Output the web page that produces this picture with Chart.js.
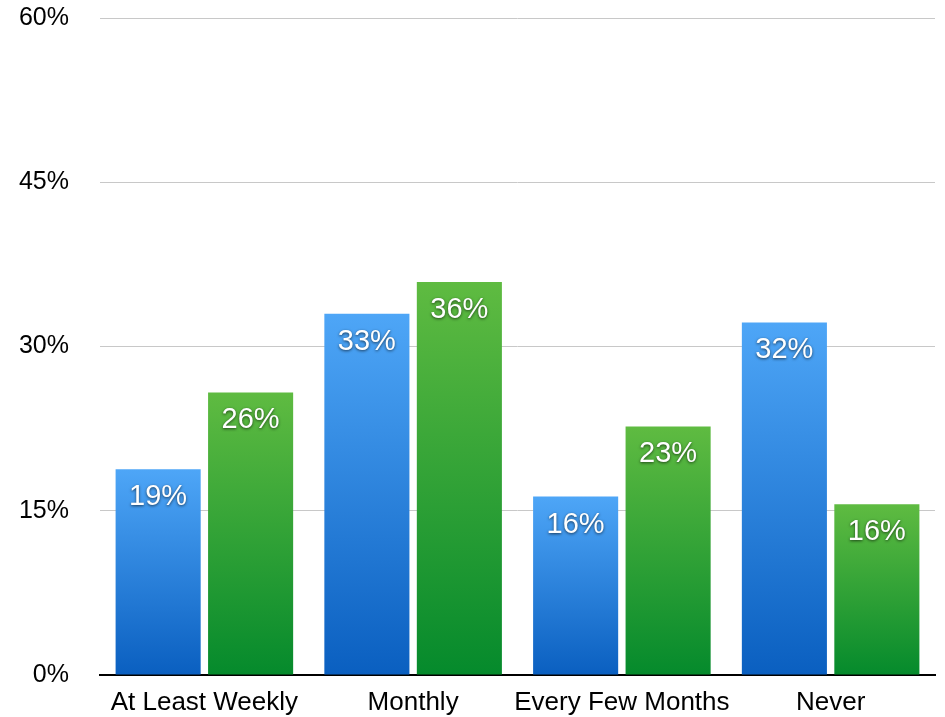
<!DOCTYPE html>
<html>
<head>
<meta charset="utf-8">
<script src="https://cdn.jsdelivr.net/npm/chart.js@4.4.0/dist/chart.umd.min.js"></script>
<style>
  html, body { margin: 0; padding: 0; background: #fff; }
  #wrap { width: 945px; height: 717px; }
</style>
</head>
<body>
<div id="wrap"><canvas id="freqChart" width="945" height="717"></canvas></div>
<script>
const categories = ['At Least Weekly', 'Monthly', 'Every Few Months', 'Never'];
// values; labels show them rounded
const blueValues = [18.8, 33.0, 16.3, 32.2];
const greenValues = [25.8, 35.9, 22.7, 15.6];
const yTicks = [0, 15, 30, 45, 60];

// gradient running from the top of each bar down to the baseline
function barGradient(c, top, bottom, fallback) {
    const chart = c.chart;
    if (!chart.chartArea || c.raw === undefined) return fallback;
    const y = chart.scales.y;
    const yTop = y.getPixelForValue(c.raw);
    const yBase = y.getPixelForValue(0);
    const g = chart.ctx.createLinearGradient(0, yTop, 0, yBase);
    g.addColorStop(0, top);
    g.addColorStop(1, bottom);
    return g;
}

// Value labels inside the bars, near the top
const barLabels = {
    id: 'barLabels',
    afterDatasetsDraw(chart) {
        const ctx = chart.ctx;
        ctx.save();
        ctx.font = '29px "Liberation Sans", Arial, sans-serif';
        ctx.textAlign = 'center';
        ctx.textBaseline = 'middle';
        ctx.fillStyle = '#ffffff';
        ctx.shadowColor = 'rgba(0,0,0,0.65)';
        ctx.shadowBlur = 3;
        ctx.shadowOffsetX = 0;
        ctx.shadowOffsetY = 1;
        chart.data.datasets.forEach(function(ds, i) {
            chart.getDatasetMeta(i).data.forEach(function(bar, j) {
                ctx.fillText(Math.round(ds.data[j]) + '%', bar.x, bar.y + 28);
            });
        });
        ctx.restore();
    }
};

const ctx = document.getElementById('freqChart').getContext('2d');
const freqChart = new Chart(ctx, {
    type: 'bar',
    data: {
        labels: categories,
        datasets: [{
            data: blueValues,
            backgroundColor: function(c) { return barGradient(c, '#4ea6f7', '#0a5fc0', '#3a8ee8'); },
            borderWidth: 0
        }, {
            data: greenValues,
            backgroundColor: function(c) { return barGradient(c, '#5fbb41', '#058a2c', '#3aa63a'); },
            borderWidth: 0
        }]
    },
    options: {
        responsive: false,
        animation: false,
        layout: { padding: { top: 18, right: 10, left: 0, bottom: 0 } },
        categoryPercentage: 0.886,
        barPercentage: 0.92,
        plugins: {
            legend: { display: false },
            tooltip: { enabled: false }
        },
        scales: {
            x: {
                grid: { display: false, drawTicks: false },
                border: { color: '#000000', width: 2 },
                ticks: {
                    color: '#000',
                    padding: 12,
                    autoSkip: false,
                    font: { family: '"Liberation Sans", Arial, sans-serif', size: 26 },
                    maxRotation: 0
                },
                afterFit: function(scale) {
                    scale.height = 42;
                    scale.paddingLeft = 0;
                    scale.paddingRight = 0;
                }
            },
            y: {
                min: 0,
                max: 60,
                afterBuildTicks: function(scale) {
                    scale.ticks = yTicks.map(function(v) { return { value: v }; });
                },
                grid: { color: '#c8c8c8', lineWidth: 1, drawTicks: false },
                border: { display: false },
                ticks: {
                    color: '#000',
                    padding: 31,
                    font: { family: '"Liberation Sans", Arial, sans-serif', size: 25 },
                    callback: function(v) { return v + '%'; }
                },
                afterFit: function(scale) {
                    scale.width = 100;
                    scale.paddingTop = 0;
                    scale.paddingBottom = 0;
                }
            }
        }
    },
    plugins: [barLabels]
});
</script>
</body>
</html>
